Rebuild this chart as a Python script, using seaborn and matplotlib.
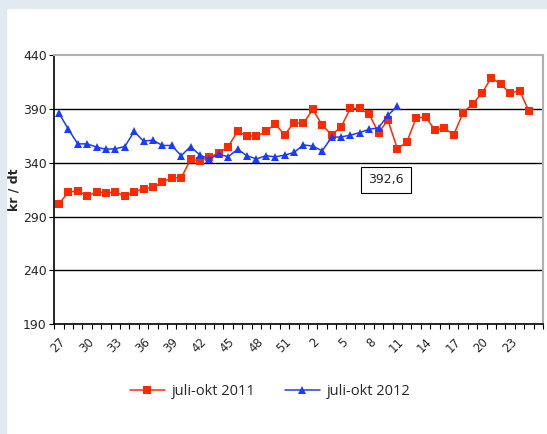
import pandas as pd
import matplotlib.pyplot as plt
import seaborn as sns
from matplotlib.patches import Rectangle

# Uker: 27-52 og 1-26
uker = [str(u) for u in list(range(27, 53)) + list(range(1, 27))]

# kr/dt per uke
pris_2011 = [302, 312.5, 314, 309, 313, 312, 313, 309, 313, 316, 317, 322, 326, 326,
             343, 342, 345, 349, 355, 369, 365, 364.5, 369, 376, 366, 377, 376.5, 389.5,
             375, 366, 373, 390.5, 390.5, 385, 368, 379.5, 353, 359, 381.5, 382.5,
             370.5, 372, 366, 386.5, 394.5, 404.5, 419, 413, 404.5, 407, 388]
pris_2012 = [386, 371, 357.5, 357.5, 354.5, 352.5, 353, 355, 369, 360, 361, 356, 356,
             346.5, 355, 347, 343.5, 348, 345.5, 352.5, 346.5, 343.5, 346.5, 345.5,
             347, 349.5, 356.5, 355.5, 351, 363.5, 364, 365.5, 368, 371, 372.5, 384, 392.6]

navn_2011 = 'juli-okt 2011'
navn_2012 = 'juli-okt 2012'

df11 = pd.DataFrame({'pos': range(len(pris_2011)), 'pris': pris_2011})
df12 = pd.DataFrame({'pos': range(len(pris_2012)), 'pris': pris_2012})

sns.set_style('white')
plt.rcParams['font.family'] = ['DejaVu Sans']

fig = plt.figure(figsize=(5.47, 4.34), dpi=100)
fig.patches.append(Rectangle((0, 0), 6 / 547, 1, transform=fig.transFigure,
                             color='#e0eaf0', zorder=0))
fig.patches.append(Rectangle((0, 1 - 8 / 434), 1, 8 / 434, transform=fig.transFigure,
                             color='#e0eaf0', zorder=0))

ax = fig.add_axes([54.3 / 547, 1 - 324.3 / 434, (543 - 54.3) / 547, (324.3 - 55) / 434])

sns.lineplot(data=df11, x='pos', y='pris', ax=ax, color='#ff2a00', lw=1.1,
             marker='s', markersize=5.5, markeredgewidth=0, label=navn_2011, zorder=3)
sns.lineplot(data=df12, x='pos', y='pris', ax=ax, color='#1a3cff', lw=1.1,
             marker='^', markersize=6, markeredgewidth=0, label=navn_2012, zorder=3)

ax.set_xlim(-0.5, len(uker) - 0.5)
ax.set_ylim(190, 440)

# rutenett
for v in [240, 290, 340, 390]:
    ax.axhline(v, color='black', lw=1, zorder=1)

ax.set_yticks([190, 240, 290, 340, 390, 440])
ax.set_yticklabels(['190', '240', '290', '340', '390', '440'], fontsize=9)
pos_lab = list(range(0, 49, 3))
ax.set_xticks(pos_lab)
ax.set_xticklabels([uker[i] for i in pos_lab], rotation=45, ha='right',
                   rotation_mode='anchor', fontsize=8.5)
ax.set_xticks([i - 0.5 for i in range(len(uker) + 1)], minor=True)
ax.tick_params(axis='x', which='major', length=0, pad=8)
ax.tick_params(axis='x', which='minor', direction='out', length=3.5, width=0.8,
               color='black', bottom=True)
ax.tick_params(axis='y', direction='out', length=3.5, width=0.8, color='black',
               left=True, pad=2)

for side in ['left', 'bottom']:
    ax.spines[side].set_color('black')
    ax.spines[side].set_linewidth(1.2)
for side in ['top', 'right']:
    ax.spines[side].set_color('#b0b0b0')
    ax.spines[side].set_linewidth(1.5)

ax.set_xlabel('')
ax.set_ylabel('kr / dt', fontsize=9, fontweight='bold')
ax.yaxis.set_label_coords(-0.07, 0.5)

ax.text(34.8, 324, '392,6', fontsize=9, ha='center', va='center',
        bbox=dict(boxstyle='square,pad=0.55', fc='white', ec='black', lw=0.8))

leg = ax.legend(loc='center', bbox_to_anchor=(0.442, -0.251), ncol=2, frameon=False,
                handlelength=2.4, handletextpad=0.5, columnspacing=2.0,
                prop={'family': 'Open Sans', 'size': 10.5})

fig.savefig('out.png', dpi=100)
